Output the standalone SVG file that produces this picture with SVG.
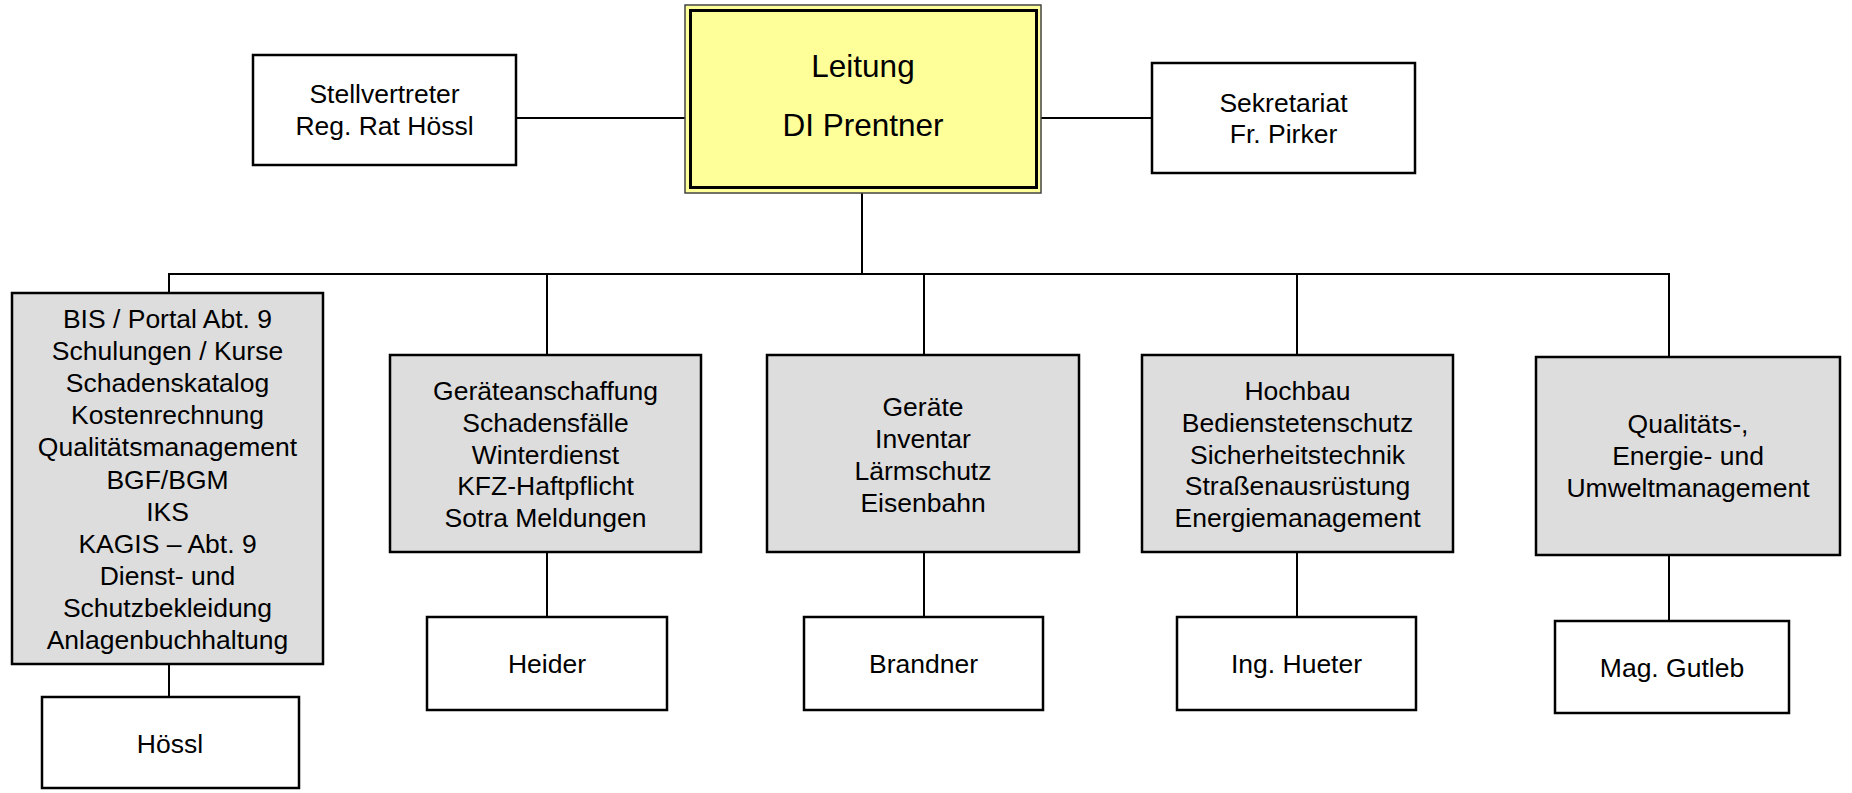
<svg xmlns="http://www.w3.org/2000/svg" width="1852" height="793" viewBox="0 0 1852 793">
<style>
text{font-family:"Liberation Sans",Arial,sans-serif;fill:#000;text-anchor:middle}
.t{font-size:26.5px}
.big{font-size:31.5px}
.box{fill:#fff;stroke:#000;stroke-width:2.5}
.grey{fill:#dddddd;stroke:#000;stroke-width:2.5}
.con{fill:none;stroke:#000;stroke-width:2}
</style>
<rect width="1852" height="793" fill="#fff"/>
<g id="connectors">
<line class="con" x1="516" y1="118" x2="685" y2="118"/>
<line class="con" x1="1041" y1="118" x2="1152" y2="118"/>
<line class="con" x1="862" y1="193" x2="862" y2="274"/>
<path class="con" d="M169,293 V274 H1669 V357"/>
<line class="con" x1="547" y1="274" x2="547" y2="355"/>
<line class="con" x1="924" y1="274" x2="924" y2="355"/>
<line class="con" x1="1297" y1="274" x2="1297" y2="355"/>
<line class="con" x1="169" y1="664" x2="169" y2="697"/>
<line class="con" x1="547" y1="552" x2="547" y2="617"/>
<line class="con" x1="924" y1="552" x2="924" y2="617"/>
<line class="con" x1="1297" y1="552" x2="1297" y2="617"/>
<line class="con" x1="1669" y1="555" x2="1669" y2="620"/>
</g>
<g id="leitung">
<rect x="685" y="5" width="356" height="188" fill="#ffff99" stroke="#444" stroke-width="1.5"/>
<rect x="690.5" y="10.5" width="346" height="177" fill="#ffff99" stroke="#000" stroke-width="3"/>
<text class="big" x="863" y="77">Leitung</text>
<text class="big" x="863" y="136">DI Prentner</text>
</g>
<g id="stellvertreter">
<rect class="box" x="253" y="55" width="263" height="110"/>
<text class="t" x="384.5" y="103">Stellvertreter</text>
<text class="t" x="384.5" y="135">Reg. Rat Hössl</text>
</g>
<g id="sekretariat">
<rect class="box" x="1152" y="63" width="263" height="110"/>
<text class="t" x="1283.5" y="112">Sekretariat</text>
<text class="t" x="1283.5" y="143">Fr. Pirker</text>
</g>
<g id="bis">
<rect class="grey" x="12" y="293" width="311" height="371"/>
<text class="t" x="167.5" y="328">BIS / Portal Abt. 9</text>
<text class="t" x="167.5" y="360.1">Schulungen / Kurse</text>
<text class="t" x="167.5" y="392.2">Schadenskatalog</text>
<text class="t" x="167.5" y="424.3">Kostenrechnung</text>
<text class="t" x="167.5" y="456.4">Qualitätsmanagement</text>
<text class="t" x="167.5" y="488.5">BGF/BGM</text>
<text class="t" x="167.5" y="520.6">IKS</text>
<text class="t" x="167.5" y="552.7">KAGIS – Abt. 9</text>
<text class="t" x="167.5" y="584.8">Dienst- und</text>
<text class="t" x="167.5" y="616.9">Schutzbekleidung</text>
<text class="t" x="167.5" y="649">Anlagenbuchhaltung</text>
</g>
<g id="hoessl">
<rect class="box" x="42" y="697" width="257" height="91"/>
<text class="t" x="170" y="753">Hössl</text>
</g>
<g id="geraeteanschaffung">
<rect class="grey" x="390" y="355" width="311" height="197"/>
<text class="t" x="545.5" y="400">Geräteanschaffung</text>
<text class="t" x="545.5" y="432">Schadensfälle</text>
<text class="t" x="545.5" y="463.5">Winterdienst</text>
<text class="t" x="545.5" y="495">KFZ-Haftpflicht</text>
<text class="t" x="545.5" y="527">Sotra Meldungen</text>
</g>
<g id="heider">
<rect class="box" x="427" y="617" width="240" height="93"/>
<text class="t" x="547" y="673">Heider</text>
</g>
<g id="geraete">
<rect class="grey" x="767" y="355" width="312" height="197"/>
<text class="t" x="923" y="416">Geräte</text>
<text class="t" x="923" y="448">Inventar</text>
<text class="t" x="923" y="480">Lärmschutz</text>
<text class="t" x="923" y="512">Eisenbahn</text>
</g>
<g id="brandner">
<rect class="box" x="804" y="617" width="239" height="93"/>
<text class="t" x="923.5" y="673">Brandner</text>
</g>
<g id="hochbau">
<rect class="grey" x="1142" y="355" width="311" height="197"/>
<text class="t" x="1297.5" y="400">Hochbau</text>
<text class="t" x="1297.5" y="432">Bedienstetenschutz</text>
<text class="t" x="1297.5" y="463.5">Sicherheitstechnik</text>
<text class="t" x="1297.5" y="495">Straßenausrüstung</text>
<text class="t" x="1297.5" y="527">Energiemanagement</text>
</g>
<g id="hueter">
<rect class="box" x="1177" y="617" width="239" height="93"/>
<text class="t" x="1296.5" y="673">Ing. Hueter</text>
</g>
<g id="qualitaet">
<rect class="grey" x="1536" y="357" width="304" height="198"/>
<text class="t" x="1688" y="433">Qualitäts-,</text>
<text class="t" x="1688" y="465">Energie- und</text>
<text class="t" x="1688" y="497">Umweltmanagement</text>
</g>
<g id="gutleb">
<rect class="box" x="1555" y="621" width="234" height="92"/>
<text class="t" x="1672" y="677">Mag. Gutleb</text>
</g>
</svg>
